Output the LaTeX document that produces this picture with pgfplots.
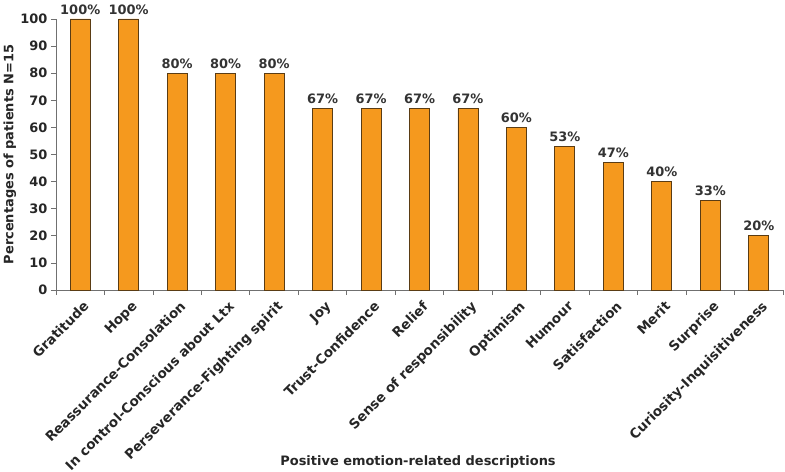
\documentclass[border=0pt]{standalone}
\usepackage{fontspec}
\setmainfont{DejaVu Sans}
\usepackage{pgfplots}
\pgfplotsset{compat=1.18}
\definecolor{barfill}{HTML}{F5991E}
\definecolor{baredge}{HTML}{5A3C14}
\definecolor{axgray}{HTML}{707070}
\begin{document}
\begin{tikzpicture}
\begin{axis}[
  scale only axis,
  width=727bp, height=271bp,
  at={(0,0)}, anchor=south west,
  xmin=-0.5, xmax=14.5,
  ymin=0, ymax=100,
  axis lines*=left,
  axis line style={axgray, line width=1pt},
  ytick={0,10,...,100},
  xtick={-0.5,0.5,...,14.5},
  x tick label as interval,
  xticklabels={Gratitude,Hope,Reassurance-Consolation,In control-Conscious about Ltx,Perseverance-Fighting spirit,Joy,Trust-Confidence,Relief,Sense of responsibility,Optimism,Humour,Satisfaction,Merit,Surprise,Curiosity-Inquisitiveness},
  tick align=outside,
  major tick length=5bp,
  tick style={axgray, line width=0.8pt},
  /pgf/number format/assume math mode=true,
  ticklabel style={font=\fontsize{13}{15}\selectfont\bfseries, text=black!85},
  x tick label style={font=\fontsize{13.5}{15}\selectfont\bfseries, rotate=45, anchor=north east, inner sep=2pt, yshift=-3bp, xshift=0bp},
  ylabel={Percentages of patients N=15},
  xlabel={Positive emotion-related descriptions},
  label style={font=\fontsize{13}{15}\selectfont\bfseries, text=black!85},
  ylabel style={at={(axis description cs:-0.053,0.5)}, anchor=south, rotate=0, inner sep=1pt},
  xlabel style={at={(axis description cs:0.498,-0.635)}, anchor=center},
  ybar, bar width=20bp,
  nodes near coords={\pgfmathprintnumber{\pgfplotspointmeta}\%},
  every node near coord/.append style={font=\fontsize{13}{15}\selectfont\bfseries, text=black!80, yshift=1bp},
  clip=false,
]
\addplot[fill=barfill, draw=baredge, line width=0.9pt] coordinates {
(0,100) (1,100) (2,80) (3,80) (4,80) (5,67) (6,67) (7,67) (8,67) (9,60) (10,53) (11,47) (12,40) (13,33) (14,20)
};
\end{axis}
\pgfresetboundingbox
\path (-56bp,-182bp) rectangle (729bp,290bp);
\end{tikzpicture}
\end{document}
